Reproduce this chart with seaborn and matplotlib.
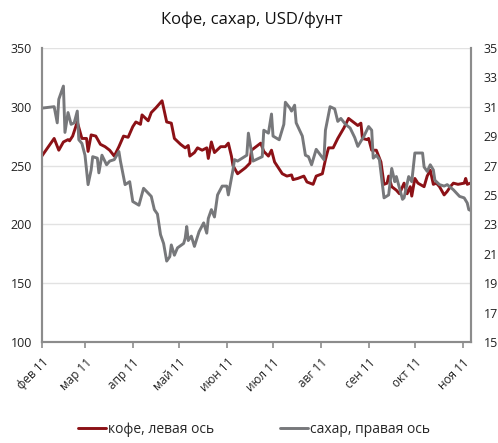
import pandas as pd
import matplotlib.pyplot as plt
import seaborn as sns

# Кофе (левая ось) и сахар (правая ось), USD/фунт, 2011
coffee_dates = [
    "2011-02-01", "2011-02-09", "2011-02-12", "2011-02-15", "2011-02-18", "2011-02-19",
    "2011-02-21", "2011-02-24", "2011-02-27", "2011-03-02", "2011-03-03", "2011-03-05",
    "2011-03-08", "2011-03-11", "2011-03-14", "2011-03-17", "2011-03-20", "2011-03-23",
    "2011-03-26", "2011-03-29", "2011-04-01", "2011-04-03", "2011-04-06", "2011-04-07",
    "2011-04-11", "2011-04-13", "2011-04-16", "2011-04-20", "2011-04-23", "2011-04-26",
    "2011-04-28", "2011-05-02", "2011-05-05", "2011-05-07", "2011-05-08", "2011-05-11",
    "2011-05-13", "2011-05-16", "2011-05-19", "2011-05-20", "2011-05-22", "2011-05-24",
    "2011-05-28", "2011-05-31", "2011-06-02", "2011-06-04", "2011-06-05", "2011-06-08",
    "2011-06-13", "2011-06-16", "2011-06-17", "2011-06-19", "2011-06-23", "2011-06-25",
    "2011-06-28", "2011-06-30", "2011-07-02", "2011-07-07", "2011-07-10", "2011-07-13",
    "2011-07-14", "2011-07-17", "2011-07-21", "2011-07-23", "2011-07-27", "2011-07-29",
    "2011-08-02", "2011-08-04", "2011-08-06", "2011-08-09", "2011-08-12", "2011-08-16",
    "2011-08-19", "2011-08-22", "2011-08-25", "2011-08-27", "2011-08-28", "2011-08-31",
    "2011-09-01", "2011-09-03", "2011-09-06", "2011-09-09", "2011-09-11", "2011-09-13",
    "2011-09-14", "2011-09-16", "2011-09-19", "2011-09-21", "2011-09-24", "2011-09-26",
    "2011-09-28", "2011-09-29", "2011-10-01", "2011-10-03", "2011-10-07", "2011-10-09",
    "2011-10-11", "2011-10-13", "2011-10-15", "2011-10-17", "2011-10-20", "2011-10-22",
    "2011-10-24", "2011-10-26", "2011-10-29", "2011-11-02", "2011-11-03", "2011-11-04",
    "2011-11-06",
]
coffee_values = [
    258, 273, 263, 270, 272, 271,
    275, 287, 273, 273, 262, 276,
    275, 268, 266, 263, 258, 266,
    275, 274, 283, 287, 285, 293,
    288, 295, 299, 305, 287, 286,
    273, 268, 265, 267, 258, 261,
    265, 263, 265, 256, 270, 261,
    266, 266, 269, 258, 250, 243,
    248, 252, 263, 265, 269, 262,
    258, 263, 253, 243, 241, 242,
    238, 239, 241, 236, 234, 241,
    243, 255, 265, 265, 273, 282,
    290, 287, 284, 286, 273, 272,
    273, 263, 263, 253, 234, 235,
    241, 232, 229, 226, 235, 226,
    232, 224, 239, 235, 232, 241,
    246, 234, 235, 232, 225, 228,
    232, 235, 234, 235, 239, 234,
    235,
]

sugar_dates = [
    "2011-02-01", "2011-02-09", "2011-02-11", "2011-02-12", "2011-02-15", "2011-02-16",
    "2011-02-18", "2011-02-20", "2011-02-22", "2011-02-24", "2011-02-25", "2011-02-27",
    "2011-03-01", "2011-03-03", "2011-03-05", "2011-03-06", "2011-03-09", "2011-03-10",
    "2011-03-12", "2011-03-15", "2011-03-17", "2011-03-20", "2011-03-23", "2011-03-24",
    "2011-03-27", "2011-03-30", "2011-04-01", "2011-04-05", "2011-04-08", "2011-04-13",
    "2011-04-15", "2011-04-17", "2011-04-19", "2011-04-21", "2011-04-23", "2011-04-25",
    "2011-04-26", "2011-04-28", "2011-04-30", "2011-05-04", "2011-05-05", "2011-05-06",
    "2011-05-07", "2011-05-09", "2011-05-11", "2011-05-14", "2011-05-17", "2011-05-19",
    "2011-05-20", "2011-05-22", "2011-05-24", "2011-05-26", "2011-05-29", "2011-06-01",
    "2011-06-02", "2011-06-05", "2011-06-06", "2011-06-08", "2011-06-11", "2011-06-14",
    "2011-06-15", "2011-06-18", "2011-06-24", "2011-06-25", "2011-06-28", "2011-06-30",
    "2011-07-01", "2011-07-05", "2011-07-08", "2011-07-09", "2011-07-12", "2011-07-13",
    "2011-07-15", "2011-07-16", "2011-07-20", "2011-07-22", "2011-07-24", "2011-07-26",
    "2011-07-29", "2011-08-03", "2011-08-04", "2011-08-07", "2011-08-10", "2011-08-12",
    "2011-08-14", "2011-08-17", "2011-08-20", "2011-08-23", "2011-08-25", "2011-08-29",
    "2011-09-01", "2011-09-03", "2011-09-04", "2011-09-06", "2011-09-08", "2011-09-11",
    "2011-09-14", "2011-09-16", "2011-09-18", "2011-09-19", "2011-09-23", "2011-09-24",
    "2011-09-27", "2011-09-29", "2011-10-01", "2011-10-06", "2011-10-07", "2011-10-09",
    "2011-10-11", "2011-10-13", "2011-10-14", "2011-10-17", "2011-10-20", "2011-10-22",
    "2011-10-26", "2011-10-30", "2011-11-02", "2011-11-04", "2011-11-05", "2011-11-06",
]
sugar_values = [
    30.9, 31.0, 29.9, 31.5, 32.4, 29.25,
    30.6, 29.8, 29.9, 30.7, 28.75, 28.5,
    27.7, 25.7, 26.7, 27.6, 27.5, 26.5,
    27.7, 27.05, 27.3, 27.4, 27.95, 27.3,
    25.7, 25.9, 24.55, 24.3, 25.45, 24.9,
    24.0, 23.7, 22.3, 21.7, 20.5, 20.8,
    21.6, 20.9, 21.4, 21.7, 22.05, 22.85,
    21.9, 22.2, 21.5, 22.5, 23.1, 22.4,
    23.4, 24.0, 23.5, 25.0, 25.6, 25.6,
    25.0, 26.7, 27.4, 27.3, 27.5, 27.7,
    29.2, 27.3, 27.6, 29.4, 29.2, 30.5,
    29.0, 28.75, 29.8, 31.3, 30.9, 30.7,
    31.1, 29.9, 29.0, 27.7, 27.6, 27.05,
    28.1, 27.4, 29.4, 31.0, 30.85, 30.0,
    30.2, 29.8, 29.55, 28.9, 28.3, 29.0,
    29.65, 29.4, 27.5, 27.7, 27.4, 24.8,
    25.0, 26.8, 25.9, 26.25, 24.7, 24.8,
    26.25, 25.9, 27.85, 27.85, 26.9, 26.6,
    27.05, 26.7, 26.0, 25.7, 25.6, 25.7,
    25.35, 24.9, 24.8, 24.45, 24.0, 23.95,
]

month_ticks = [
    "2011-02-01", "2011-03-01", "2011-04-01", "2011-05-01", "2011-06-01",
    "2011-07-01", "2011-08-01", "2011-09-01", "2011-10-01", "2011-11-01",
]
month_labels = [
    "фев 11", "мар 11", "апр 11", "май 11", "июн 11",
    "июл 11", "авг 11", "сен 11", "окт 11", "ноя 11",
]

coffee = pd.DataFrame({"date": pd.to_datetime(coffee_dates), "price": coffee_values})
sugar = pd.DataFrame({"date": pd.to_datetime(sugar_dates), "price": sugar_values})

sns.set_style("white")
plt.rcParams["font.family"] = ["Open Sans", "DejaVu Sans"]

red = "#8C1116"
grey = "#77787B"
axis_grey = "#8C8C8C"

fig = plt.figure(figsize=(4.98, 4.43), dpi=100)
ax = fig.add_axes([0.084, 0.228, 0.862, 0.664])
ax2 = ax.twinx()

sns.lineplot(data=coffee, x="date", y="price", ax=ax, color=red, linewidth=2.1)
sns.lineplot(data=sugar, x="date", y="price", ax=ax2, color=grey, linewidth=2.1)

ax.set_xlim(pd.Timestamp("2011-02-01"), pd.Timestamp("2011-11-06 12:00"))
ax.set_ylim(100, 350)
ax.set_yticks(range(100, 351, 50))
ax2.set_ylim(15, 35)
ax2.set_yticks(range(15, 36, 2))

ax.set_xticks(pd.to_datetime(month_ticks))
ax.set_xticklabels(month_labels, rotation=45, ha="right", rotation_mode="anchor")

ax.set_xlabel("")
ax.set_ylabel("")
ax2.set_ylabel("")

ax.yaxis.grid(True, color="#E2E2E2", linewidth=1)
ax.set_axisbelow(True)

for a in (ax, ax2):
    a.spines["top"].set_visible(False)
    for s in ("left", "right", "bottom"):
        a.spines[s].set_color(axis_grey)
        a.spines[s].set_linewidth(1.5)

ax.tick_params(axis="y", length=0, pad=7, labelsize=9, labelcolor="#222222")
ax2.tick_params(axis="y", length=0, pad=9, labelsize=9, labelcolor="#222222")
ax.tick_params(axis="x", length=4, width=1.2, color=axis_grey, direction="out",
               pad=6, labelsize=8.5, labelcolor="#222222", bottom=True)

fig.suptitle("Кофе, сахар, USD/фунт", x=0.505, y=0.955, va="center",
             fontsize=12, color="#111111")

handles = [ax.get_lines()[0], ax2.get_lines()[0]]
fig.legend(handles, ["кофе, левая ось", "сахар, правая ось"], loc="center",
           bbox_to_anchor=(0.51, 0.03), ncol=2, frameon=False, fontsize=10,
           handlelength=2.0, handletextpad=0.1, columnspacing=4.8,
           borderpad=0.1)

plt.savefig("out.png", dpi=100)
